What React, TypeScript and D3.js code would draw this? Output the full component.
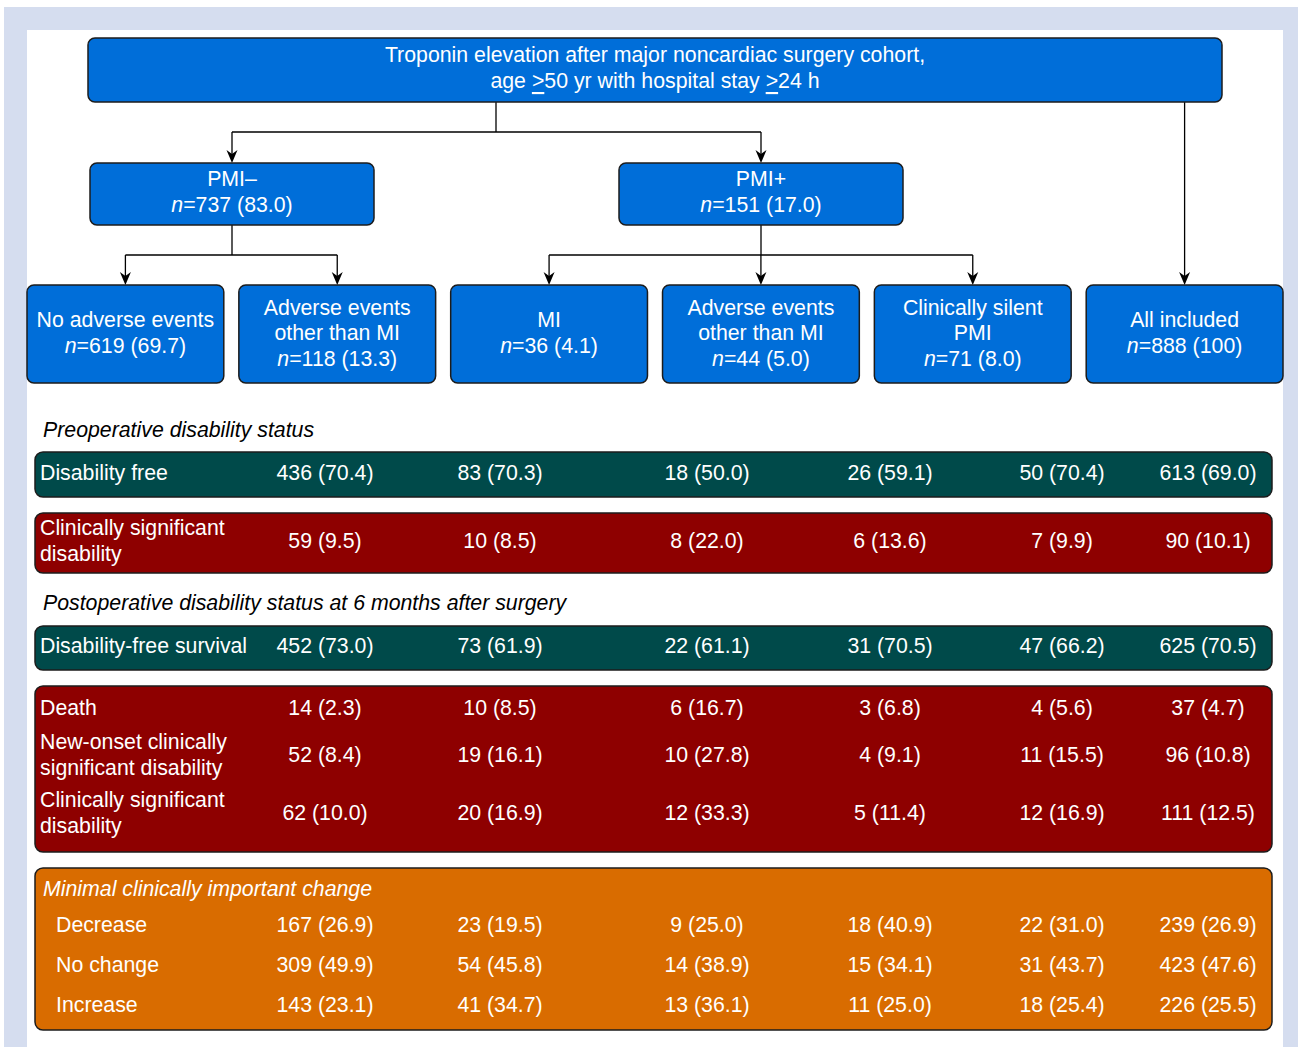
import React from 'react';
import * as d3 from 'd3';

// Flowchart nodes
const rootLines = ['Troponin elevation after major noncardiac surgery cohort,', 'age ≥50 yr with hospital stay ≥24 h'];
const parentLabels = ['PMI–', 'PMI+'];
const parentN = [737, 151];
const parentPct = ['83.0', '17.0'];
const groups = ['noAE', 'aeOther', 'mi', 'aePmi', 'silent', 'all'];
const leafLabels = [['No adverse events'], ['Adverse events', 'other than MI'], ['MI'], ['Adverse events', 'other than MI'], ['Clinically silent', 'PMI'], ['All included']];
const leafN = [619, 118, 36, 44, 71, 888];
const leafPct = ['69.7', '13.3', '4.1', '5.0', '8.0', '100'];
const leafParent = [0, 0, 1, 1, 1, -1];

// Table rows: counts and percentages per group
const preFreeN = [436, 83, 18, 26, 50, 613];
const preFreePct = [70.4, 70.3, 50.0, 59.1, 70.4, 69.0];
const preDisN = [59, 10, 8, 6, 7, 90];
const preDisPct = [9.5, 8.5, 22.0, 13.6, 9.9, 10.1];
const dfsN = [452, 73, 22, 31, 47, 625];
const dfsPct = [73.0, 61.9, 61.1, 70.5, 66.2, 70.5];
const deathN = [14, 10, 6, 3, 4, 37];
const deathPct = [2.3, 8.5, 16.7, 6.8, 5.6, 4.7];
const newOnsetN = [52, 19, 10, 4, 11, 96];
const newOnsetPct = [8.4, 16.1, 27.8, 9.1, 15.5, 10.8];
const postDisN = [62, 20, 12, 5, 12, 111];
const postDisPct = [10.0, 16.9, 33.3, 11.4, 16.9, 12.5];
const decN = [167, 23, 9, 18, 22, 239];
const decPct = [26.9, 19.5, 25.0, 40.9, 31.0, 26.9];
const noChN = [309, 54, 14, 15, 31, 423];
const noChPct = [49.9, 45.8, 38.9, 34.1, 43.7, 47.6];
const incN = [143, 41, 13, 11, 18, 226];
const incPct = [23.1, 34.7, 36.1, 25.0, 25.4, 25.5];

const W = 1298;
const H = 1047;
const FONT = '"Liberation Sans", Arial, Helvetica, sans-serif';
const BLUE = '#006ed9';
const TEAL = '#004a4a';
const RED = '#8e0000';
const ORANGE = '#d96c00';
const EDGE = '#1c1c1c';
const DY = -1; // small baseline nudge

// layout
const leafX = d3.scaleBand<string>().domain(groups).range([27, 1283]).paddingInner(0.071);
const colX = d3.scaleOrdinal<string, number>().domain(groups).range([325, 500, 707, 890, 1062, 1208]);
const parentX = [90, 619];
const parentW = 284;
const lineY = d3.scaleLinear().domain([0, 1]).range([0, 25.5]);

const fmt = (n: number, p: number) => `${n} (${p.toFixed(1)})`;

// render "≥" as an underlined ">"
function richText(s: string) {
  const parts = s.split('≥');
  const out: React.ReactNode[] = [];
  parts.forEach((p, i) => {
    if (i > 0) out.push(<tspan key={`u${i}`} textDecoration="underline">{'>'}</tspan>);
    out.push(<tspan key={`t${i}`}>{p}</tspan>);
  });
  return out;
}

function NText({ x, y, n, pct }: { x: number; y: number; n: number; pct: string }) {
  return (
    <text x={x} y={y + DY} textAnchor="middle" dominantBaseline="central" fill="#fff">
      <tspan fontStyle="italic">n</tspan>
      {`=${n} (${pct})`}
    </text>
  );
}

function Arrow({ x, y1, y2 }: { x: number; y1: number; y2: number }) {
  return (
    <g>
      <line x1={x} y1={y1} x2={x} y2={y2 - 6} stroke="#000" strokeWidth={1.3} />
      <path d={`M${x},${y2} L${x - 5.5},${y2 - 13} L${x},${y2 - 9} L${x + 5.5},${y2 - 13} Z`} fill="#000" />
    </g>
  );
}

type Row = { label: string[]; n: number[]; pct: number[]; y: number; indent?: boolean };

const rowsPreFree: Row[] = [{ label: ['Disability free'], n: preFreeN, pct: preFreePct, y: 474 }];
const rowsPreDis: Row[] = [{ label: ['Clinically significant', 'disability'], n: preDisN, pct: preDisPct, y: 542 }];
const rowsDfs: Row[] = [{ label: ['Disability-free survival'], n: dfsN, pct: dfsPct, y: 647 }];
const rowsPost: Row[] = [
  { label: ['Death'], n: deathN, pct: deathPct, y: 709 },
  { label: ['New-onset clinically', 'significant disability'], n: newOnsetN, pct: newOnsetPct, y: 756 },
  { label: ['Clinically significant', 'disability'], n: postDisN, pct: postDisPct, y: 814 },
];
const rowsMcic: Row[] = [
  { label: ['Decrease'], n: decN, pct: decPct, y: 926, indent: true },
  { label: ['No change'], n: noChN, pct: noChPct, y: 966, indent: true },
  { label: ['Increase'], n: incN, pct: incPct, y: 1006, indent: true },
];

function RowTexts({ rows }: { rows: Row[] }) {
  return (
    <g fill="#fff">
      {rows.map((r, ri) => {
        const off = ((r.label.length - 1) * 26) / 2;
        return (
          <g key={ri}>
            {r.label.map((l, li) => (
              <text key={li} x={r.indent ? 56 : 40} y={r.y - off + li * 26 + DY} dominantBaseline="central">
                {l}
              </text>
            ))}
            {groups.map((g, gi) => (
              <text key={g} x={colX(g)} y={r.y + DY} textAnchor="middle" dominantBaseline="central">
                {fmt(r.n[gi], r.pct[gi])}
              </text>
            ))}
          </g>
        );
      })}
    </g>
  );
}

function Band({ y, h, fill }: { y: number; h: number; fill: string }) {
  return <rect x={35} y={y} width={1237} height={h} rx={8} fill={fill} stroke={EDGE} strokeWidth={1.5} />;
}

export default function App() {
  const leafCx = groups.map((g) => (leafX(g) as number) + leafX.bandwidth() / 2);
  const parentCx = parentX.map((x) => x + parentW / 2);
  return (
    <div>
      <style>{'body{margin:0}'}</style>
      <svg width={W} height={H} style={{ display: 'block' }} fontFamily={FONT} fontSize={21.3}>
        <rect x={0} y={0} width={W} height={H} fill="#fff" />
        <rect x={4} y={7} width={W - 4} height={H - 7} fill="#d5ddef" />
        <rect x={27} y={30} width={1256} height={H - 30} fill="#fff" />

        {/* connectors */}
        <line x1={496} y1={102} x2={496} y2={132} stroke="#000" strokeWidth={1.3} />
        <line x1={parentCx[0]} y1={132} x2={parentCx[1]} y2={132} stroke="#000" strokeWidth={1.3} />
        {parentCx.map((cx, i) => (
          <Arrow key={i} x={cx} y1={132} y2={163} />
        ))}
        <Arrow x={leafCx[5]} y1={102} y2={285} />
        {parentCx.map((cx, pi) => {
          const kids = leafCx.filter((_, i) => leafParent[i] === pi);
          return (
            <g key={pi}>
              <line x1={cx} y1={225} x2={cx} y2={255} stroke="#000" strokeWidth={1.3} />
              <line x1={d3.min(kids)} y1={255} x2={d3.max(kids)} y2={255} stroke="#000" strokeWidth={1.3} />
              {kids.map((k, i) => (
                <Arrow key={i} x={k} y1={255} y2={285} />
              ))}
            </g>
          );
        })}

        {/* root */}
        <rect x={88} y={38} width={1134} height={64} rx={7} fill={BLUE} stroke={EDGE} strokeWidth={1.5} />
        {rootLines.map((l, i) => (
          <text key={i} x={655} y={56 + i * 26 + DY} textAnchor="middle" dominantBaseline="central" fill="#fff">
            {richText(l)}
          </text>
        ))}

        {/* parents */}
        {parentLabels.map((l, i) => (
          <g key={l}>
            <rect x={parentX[i]} y={163} width={parentW} height={62} rx={7} fill={BLUE} stroke={EDGE} strokeWidth={1.5} />
            <text x={parentCx[i]} y={180 + DY} textAnchor="middle" dominantBaseline="central" fill="#fff">
              {l}
            </text>
            <NText x={parentCx[i]} y={205.5} n={parentN[i]} pct={parentPct[i]} />
          </g>
        ))}

        {/* leaves */}
        {groups.map((g, i) => {
          const lines = leafLabels[i];
          const total = lines.length + 1;
          const top = 334 - lineY((total - 1) / 2);
          return (
            <g key={g}>
              <rect x={leafX(g)} y={285} width={leafX.bandwidth()} height={98} rx={7} fill={BLUE} stroke={EDGE} strokeWidth={1.5} />
              {lines.map((l, li) => (
                <text key={li} x={leafCx[i]} y={top + lineY(li) + DY} textAnchor="middle" dominantBaseline="central" fill="#fff">
                  {l}
                </text>
              ))}
              <NText x={leafCx[i]} y={top + lineY(lines.length)} n={leafN[i]} pct={leafPct[i]} />
            </g>
          );
        })}

        {/* tables */}
        <text x={43} y={431 + DY} dominantBaseline="central" fontStyle="italic" fill="#000">
          Preoperative disability status
        </text>
        <Band y={452} h={45} fill={TEAL} />
        <RowTexts rows={rowsPreFree} />
        <Band y={513} h={60} fill={RED} />
        <RowTexts rows={rowsPreDis} />

        <text x={43} y={604 + DY} dominantBaseline="central" fontStyle="italic" fill="#000">
          Postoperative disability status at 6 months after surgery
        </text>
        <Band y={626} h={44} fill={TEAL} />
        <RowTexts rows={rowsDfs} />
        <Band y={686} h={166} fill={RED} />
        <RowTexts rows={rowsPost} />

        <Band y={868} h={162} fill={ORANGE} />
        <text x={43} y={890 + DY} dominantBaseline="central" fontStyle="italic" fill="#fff">
          Minimal clinically important change
        </text>
        <RowTexts rows={rowsMcic} />
      </svg>
    </div>
  );
}
